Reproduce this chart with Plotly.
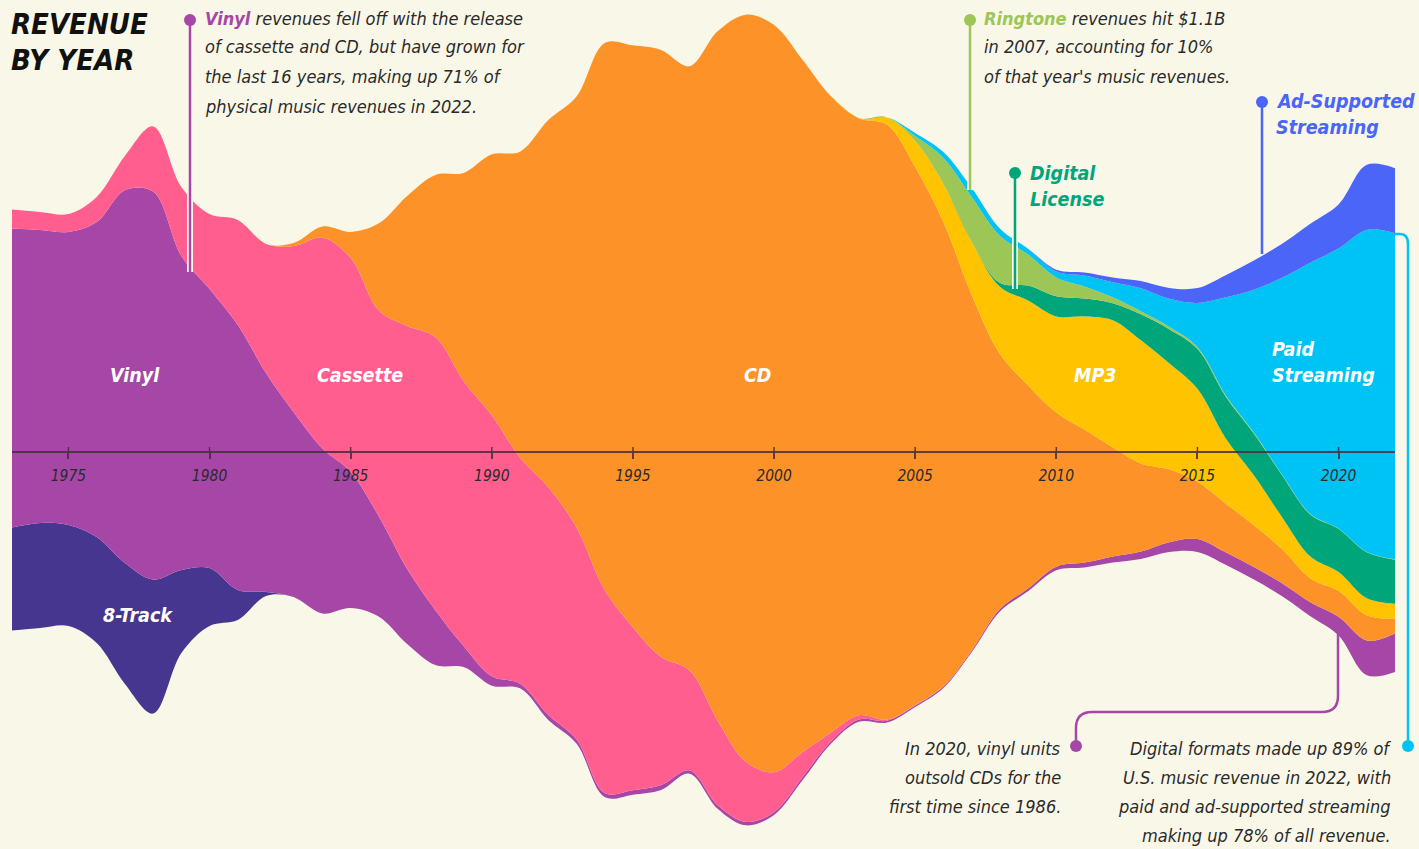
import numpy as np
import plotly.graph_objects as go

W, H = 1419, 849

# ---------------- data (US music revenue by format, $B, inflation adjusted) ----------------
years = list(range(1973, 2023))

eight_track = [3.32, 3.39, 3.26, 3.42, 3.90, 4.32, 2.68, 1.87, 0.97, 0.13,
               0, 0, 0, 0, 0, 0, 0, 0, 0, 0,
               0, 0, 0, 0, 0, 0, 0, 0, 0, 0,
               0, 0, 0, 0, 0, 0, 0, 0, 0, 0,
               0, 0, 0, 0, 0, 0, 0, 0, 0, 0]

vinyl = [9.65, 9.45, 9.45, 10.16, 12.03, 12.52, 10.13, 9.00, 8.55, 7.06,
         5.94, 5.32, 4.39, 3.23, 2.42, 1.77, 0.68, 0.30, 0.15, 0.16,
         0.13, 0.13, 0.14, 0.16, 0.11, 0.11, 0.11, 0.09, 0.10, 0.07,
         0.07, 0.06, 0.05, 0.05, 0.05, 0.08, 0.09, 0.12, 0.16, 0.20,
         0.24, 0.32, 0.42, 0.40, 0.40, 0.42, 0.45, 0.60, 1.12, 1.24]

cassette = [0.61, 0.58, 0.58, 0.81, 1.10, 2.10, 2.23, 2.42, 3.39, 4.16,
            5.39, 6.81, 6.90, 6.65, 7.84, 8.81, 8.55, 8.42, 7.29, 7.35,
            6.84, 6.55, 5.26, 4.13, 3.23, 2.74, 1.94, 1.29, 0.81, 0.30,
            0.14, 0.04, 0.02, 0.01, 0, 0, 0, 0, 0, 0,
            0, 0, 0, 0, 0, 0, 0, 0, 0, 0]

cd = [0, 0, 0, 0, 0, 0, 0, 0, 0, 0,
      0.10, 0.35, 0.84, 2.81, 4.19, 5.23, 6.71, 8.42, 9.87, 11.84,
      13.90, 17.65, 18.77, 19.58, 19.48, 22.23, 24.10, 24.10, 22.35, 20.55,
      19.26, 19.19, 17.35, 14.97, 11.48, 8.23, 6.55, 4.97, 4.29, 3.52,
      2.84, 2.35, 1.84, 1.58, 1.35, 1.10, 0.77, 0.84, 0.81, 0.48]

mp3 = [0, 0, 0, 0, 0, 0, 0, 0, 0, 0,
       0, 0, 0, 0, 0, 0, 0, 0, 0, 0,
       0, 0, 0, 0, 0, 0, 0, 0, 0, 0,
       0, 0.23, 0.84, 1.23, 1.71, 2.16, 2.74, 3.10, 3.65, 4.10,
       3.97, 3.42, 3.00, 2.10, 1.61, 1.03, 0.71, 0.61, 0.55, 0.48]

digital_license = [0, 0, 0, 0, 0, 0, 0, 0, 0, 0,
                   0, 0, 0, 0, 0, 0, 0, 0, 0, 0,
                   0, 0, 0, 0, 0, 0, 0, 0, 0, 0,
                   0, 0, 0, 0, 0, 0.13, 0.48, 0.65, 0.58, 0.55,
                   0.84, 1.10, 1.29, 1.35, 1.35, 1.35, 1.35, 1.39, 1.48, 1.42]

ringtone = [0, 0, 0, 0, 0, 0, 0, 0, 0, 0,
            0, 0, 0, 0, 0, 0, 0, 0, 0, 0,
            0, 0, 0, 0, 0, 0, 0, 0, 0, 0,
            0, 0, 0.16, 0.84, 1.45, 1.52, 1.00, 0.61, 0.39, 0.19,
            0.10, 0.08, 0.06, 0.04, 0.03, 0.02, 0.02, 0.01, 0.01, 0.01]

paid_streaming = [0, 0, 0, 0, 0, 0, 0, 0, 0, 0,
                  0, 0, 0, 0, 0, 0, 0, 0, 0, 0,
                  0, 0, 0, 0, 0, 0, 0, 0, 0, 0,
                  0, 0, 0.10, 0.19, 0.29, 0.23, 0.19, 0.19, 0.35, 0.48,
                  0.74, 0.90, 1.42, 3.16, 4.61, 6.35, 8.10, 9.03, 10.39, 10.52]

ad_streaming = [0, 0, 0, 0, 0, 0, 0, 0, 0, 0,
                0, 0, 0, 0, 0, 0, 0, 0, 0, 0,
                0, 0, 0, 0, 0, 0, 0, 0, 0, 0,
                0, 0, 0, 0, 0, 0, 0, 0.06, 0.10, 0.16,
                0.23, 0.35, 0.48, 0.71, 0.94, 1.10, 1.26, 1.42, 2.10, 2.10]

tick_years = [1975, 1980, 1985, 1990, 1995, 2000, 2005, 2010, 2015, 2020]

# ---------------- styling ----------------
BG = "#F9F7E8"
FONT = "DejaVu Sans Condensed, Liberation Sans Narrow, Arial Narrow, sans-serif"
C_8T = "#46368F"
C_VINYL = "#A647A8"
C_CASS = "#FF5E8F"
C_CD = "#FD9228"
C_MP3 = "#FFC300"
C_DL = "#00A67A"
C_RING = "#9CC655"
C_PAID = "#00C3F5"
C_AD = "#4A65F7"
TXT = "#2A2A2A"

layers = [
    ("8-Track", eight_track, C_8T),
    ("Vinyl", vinyl, C_VINYL),
    ("Cassette", cassette, C_CASS),
    ("CD", cd, C_CD),
    ("MP3", mp3, C_MP3),
    ("Digital License", digital_license, C_DL),
    ("Ringtone", ringtone, C_RING),
    ("Paid Streaming", paid_streaming, C_PAID),
    ("Ad-Supported Streaming", ad_streaming, C_AD),
]

# silhouette (centred) streamgraph offset
total = np.sum([np.array(v, dtype=float) for _, v, _ in layers], axis=0)
baseline = -total / 2.0

fig = go.Figure()
fig.add_trace(go.Scatter(
    x=years, y=baseline, stackgroup="s", mode="lines", fill="none",
    line=dict(width=0, shape="spline", color="rgba(0,0,0,0)"),
    hoverinfo="skip", showlegend=False))
for name, vals, col in layers:
    fig.add_trace(go.Scatter(
        x=years, y=vals, name=name, stackgroup="s", mode="lines",
        fill="tonexty", fillcolor=col,
        line=dict(width=0, shape="spline", color=col),
        hoverinfo="skip", showlegend=False))


def px(x):
    return x / W


def py(y):
    return 1 - y / H


annotations = []


def txt(x, y, text, size=18, color=TXT, anchor="left", bold=False):
    annotations.append(dict(
        x=px(x), y=py(y), xref="paper", yref="paper", text=text,
        showarrow=False, xanchor=anchor, yanchor="middle",
        font=dict(family=FONT, size=size, color=color, style="italic",
                  weight="bold" if bold else "normal")))


# title
txt(9, 24, "REVENUE", size=29, color="#111111", bold=True)
txt(9, 60, "BY YEAR", size=29, color="#111111", bold=True)

# vinyl callout
txt(203, 18, "<b><span style='color:%s'>Vinyl</span></b> revenues fell off with the release" % C_VINYL)
txt(203, 47, "of cassette and CD, but have grown for")
txt(203, 77, "the last 16 years, making up 71% of")
txt(203, 106, "physical music revenues in 2022.")

# ringtone callout
txt(982, 18, "<b><span style='color:%s'>Ringtone</span></b> revenues hit $1.1B" % C_RING)
txt(982, 47, "in 2007, accounting for 10%")
txt(982, 77, "of that year's music revenues.")

# digital license / ad-supported labels
txt(1028, 173, "Digital", size=19.5, color=C_DL, bold=True)
txt(1028, 199, "License", size=19.5, color=C_DL, bold=True)
txt(1274, 102, "Ad-Supported", size=19.5, color=C_AD, bold=True)
txt(1274, 128, "Streaming", size=19.5, color=C_AD, bold=True)

# bottom callouts
txt(1063, 748, "In 2020, vinyl units", anchor="right")
txt(1063, 777, "outsold CDs for the", anchor="right")
txt(1063, 806, "first time since 1986.", anchor="right")
txt(1393, 748, "Digital formats made up 89% of", anchor="right")
txt(1393, 777, "U.S. music revenue in 2022, with", anchor="right")
txt(1393, 806, "paid and ad-supported streaming", anchor="right")
txt(1393, 835, "making up 78% of all revenue.", anchor="right")

# in-stream labels
WH = "#FFFFFF"
txt(135, 375, "Vinyl", size=19.5, color=WH, anchor="center", bold=True)
txt(360, 375, "Cassette", size=19.5, color=WH, anchor="center", bold=True)
txt(757, 375, "CD", size=19.5, color=WH, anchor="center", bold=True)
txt(1095, 375, "MP3", size=19.5, color=WH, anchor="center", bold=True)
txt(1270, 349, "Paid", size=19.5, color=WH, bold=True)
txt(1270, 375, "Streaming", size=19.5, color=WH, bold=True)
txt(138, 615, "8-Track", size=19.5, color=WH, anchor="center", bold=True)

shapes = []


def vline(x, y0, y1, col):
    shapes.append(dict(type="line", xref="paper", yref="paper",
                       x0=px(x), x1=px(x), y0=py(y0), y1=py(y1),
                       line=dict(color=BG, width=6)))
    shapes.append(dict(type="line", xref="paper", yref="paper",
                       x0=px(x), x1=px(x), y0=py(y0), y1=py(y1),
                       line=dict(color=col, width=2.5)))


def dot(x, y, col, r=6):
    shapes.append(dict(type="circle", xref="paper", yref="paper",
                       x0=px(x - r), x1=px(x + r), y0=py(y + r), y1=py(y - r),
                       fillcolor=col, line=dict(width=0)))


def path(points, col, width=2.5):
    d = "M %f,%f" % (px(points[0][0]), py(points[0][1]))
    for seg in points[1:]:
        if len(seg) == 4:
            d += " Q %f,%f %f,%f" % (px(seg[0]), py(seg[1]), px(seg[2]), py(seg[3]))
        else:
            d += " L %f,%f" % (px(seg[0]), py(seg[1]))
    shapes.append(dict(type="path", xref="paper", yref="paper", path=d,
                       line=dict(color=col, width=width)))


vline(190, 20, 272, C_VINYL)
dot(190, 20, C_VINYL)
vline(970, 20, 190, C_RING)
dot(970, 20, C_RING)
vline(1015, 173, 289, C_DL)
dot(1015, 173, C_DL)
vline(1262, 102, 254, C_AD)
dot(1262, 102, C_AD)

path([(1338, 634), (1338, 696), (1338, 712, 1322, 712), (1092, 712),
      (1076, 712, 1076, 728), (1076, 746)], C_VINYL)
dot(1076, 746, C_VINYL)
path([(1395, 234), (1400, 234), (1408, 234, 1408, 244), (1408, 746)], C_PAID)
dot(1408, 746, C_PAID)

# small upper halves of the tick marks (ticks cross the axis line)
for t in tick_years:
    shapes.append(dict(type="line", xref="x", yref="paper", x0=t, x1=t,
                       y0=py(452), y1=py(447),
                       line=dict(color="rgba(70,45,60,0.85)", width=1.5)))

fig.update_layout(
    width=W, height=H,
    margin=dict(l=0, r=0, t=0, b=0),
    paper_bgcolor=BG, plot_bgcolor=BG,
    showlegend=False,
    annotations=annotations,
    shapes=shapes,
    xaxis=dict(
        domain=[12 / W, 1395 / W], range=[1973, 2022],
        anchor="free", position=1 - 452 / H,
        showgrid=False, zeroline=False,
        showline=True, linecolor="rgba(70,45,60,0.85)", linewidth=1.5,
        ticks="outside", ticklen=6, tickwidth=1.5, tickcolor="rgba(70,45,60,0.85)",
        tickvals=tick_years, ticktext=[str(t) for t in tick_years],
        tickfont=dict(family=FONT, size=15.5, color=TXT, style="italic"),
        ticklabelstandoff=4, fixedrange=True,
    ),
    yaxis=dict(range=[-(H - 420) / 31.0, 420 / 31.0], visible=False,
               domain=[0, 1], fixedrange=True),
)

fig.write_html(
    "out.html",
    config={"displayModeBar": False},
    post_script="document.body.style.margin='0px';"
                "document.body.style.background='%s';" % BG,
)
